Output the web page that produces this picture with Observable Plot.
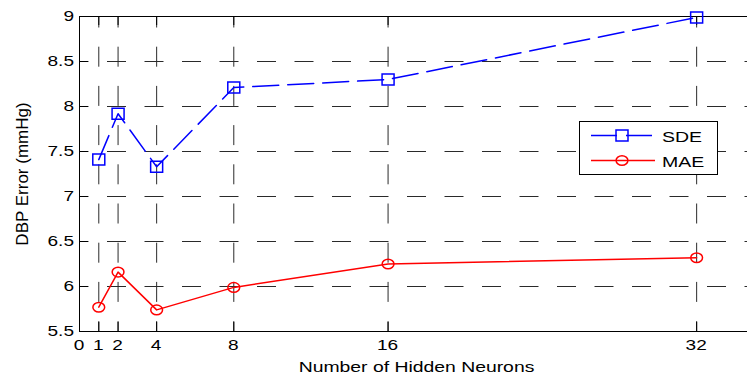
<!DOCTYPE html>
<html>
<head>
<meta charset="utf-8">
<script src="https://cdn.jsdelivr.net/npm/d3@7"></script>
<script src="https://cdn.jsdelivr.net/npm/@observablehq/plot@0.6"></script>
<style>
  html, body { margin: 0; padding: 0; background: #fff; overflow: hidden; }
</style>
</head>
<body>
<div id="chart"></div>
<script>
// Error of the DBP estimate versus the size of the hidden layer
const hiddenNeurons = [1, 2, 4, 8, 16, 32];
const sdeError = [7.41, 7.92, 7.33, 8.21, 8.30, 8.99];
const maeError = [5.77, 6.16, 5.74, 5.99, 6.25, 6.32];
const xTickValues = [0, 1, 2, 4, 8, 16, 32];
const yTickValues = [5.5, 6, 6.5, 7, 7.5, 8, 8.5, 9];
const seriesNames = ["SDE", "MAE"];
const seriesColors = ["#0000ff", "#ff0000"];
const xTitle = "Number of Hidden Neurons";
const yTitle = "DBP Error (mmHg)";
const xDomain = [0, 35];
const yDomain = [5.5, 9];

// Open markers, slightly wider than tall
const squareSymbol = {draw(ctx) { ctx.rect(-6, -5.5, 12, 11); }};
const ellipseSymbol = {draw(ctx) {
  const rx = 5.9, ry = 4.8, k = 0.5523;
  ctx.moveTo(rx, 0);
  ctx.bezierCurveTo(rx, k * ry, k * rx, ry, 0, ry);
  ctx.bezierCurveTo(-k * rx, ry, -rx, k * ry, -rx, 0);
  ctx.bezierCurveTo(-rx, -k * ry, -k * rx, -ry, 0, -ry);
  ctx.bezierCurveTo(k * rx, -ry, rx, -k * ry, rx, 0);
  ctx.closePath();
}};
const seriesSymbols = [squareSymbol, ellipseSymbol];
const seriesDash = ["26,9", null];

const rows = seriesNames.flatMap((name, s) =>
  hiddenNeurons.map((n, i) => ({series: name, neurons: n, error: [sdeError, maeError][s][i]}))
);

const gridColor = "#2a2a2a";
const fontFamily = "'Liberation Sans', Arial, sans-serif";

const chart = Plot.plot({
  width: 747,
  height: 375,
  marginLeft: 79,
  marginRight: -7,
  marginTop: 16,
  marginBottom: 44,
  x: {domain: xDomain, axis: null},
  y: {domain: yDomain, axis: null},
  style: {fontFamily, fontSize: "14px", background: "#fff", color: "#000", overflow: "hidden"},
  marks: [
    // dashed grid
    Plot.ruleX(xTickValues.filter(v => v > xDomain[0]), {
      x: d => d, y1: () => yDomain[1], y2: () => yDomain[0],
      stroke: gridColor, strokeDasharray: "20,19.2", strokeDashoffset: 8.5
    }),
    Plot.ruleY(yTickValues.filter(v => v > yDomain[0] && v < yDomain[1]), {
      y: d => d, x1: () => xDomain[0], x2: () => xDomain[1],
      stroke: gridColor, strokeDasharray: "19,18.5", strokeDashoffset: 9.5
    }),
    // inward tick marks
    Plot.ruleX(xTickValues, {x: d => d, y1: () => yDomain[0], y2: () => yDomain[0], insetTop: -9, stroke: "#000"}),
    Plot.ruleX(xTickValues, {x: d => d, y1: () => yDomain[1], y2: () => yDomain[1], insetBottom: -9, stroke: "#000"}),
    Plot.ruleY(yTickValues, {y: d => d, x1: () => xDomain[0], x2: () => xDomain[0], insetRight: -9, stroke: "#000"}),
    // axes box
    Plot.ruleX([xDomain[0]], {stroke: "#000"}),
    Plot.ruleY(yDomain, {stroke: "#000"}),
    // vertical axis title
    Plot.text([yTitle], {
      text: d => d, frameAnchor: "left", rotate: -90, dx: -57, textAnchor: "middle", lineAnchor: "middle",
      fontSize: 17
    }),
    // series
    ...seriesNames.map((name, s) => Plot.line(rows.filter(r => r.series === name), {
      x: "neurons", y: "error", stroke: seriesColors[s], strokeWidth: 1.5,
      strokeDasharray: seriesDash[s]
    })),
    ...seriesNames.map((name, s) => Plot.dot(rows.filter(r => r.series === name), {
      x: "neurons", y: "error", symbol: seriesSymbols[s], stroke: seriesColors[s],
      fill: "none", strokeWidth: 1.5
    }))
  ]
});

const sx = chart.scale("x"), sy = chart.scale("y");
const svg = d3.select(chart);

// horizontally widened label placed at (x, baseline y)
function wideText(parent, str, x, y, {size, stretch, anchor}) {
  return parent.append("text")
    .attr("transform", `translate(${x},${y}) scale(${stretch},1)`)
    .attr("text-anchor", anchor)
    .attr("font-family", fontFamily)
    .attr("font-size", size)
    .attr("fill", "#000")
    .text(str);
}

// tick labels and horizontal axis title
const labels = svg.append("g").attr("aria-label", "tick labels");
const xBase = sy.apply(yDomain[0]);
xTickValues.forEach(v => wideText(labels, String(v), sx.apply(v), xBase + 19, {size: 14, stretch: 1.36, anchor: "middle"}));
const yEdge = sx.apply(xDomain[0]);
yTickValues.forEach(v => wideText(labels, String(v), yEdge - 5, sy.apply(v) + 5, {size: 14, stretch: 1.36, anchor: "end"}));
wideText(labels, xTitle, (sx.apply(xDomain[0]) + sx.apply(xDomain[1])) / 2, xBase + 41, {size: 15.5, stretch: 1.25, anchor: "middle"});

// legend box inside the plot area
const legend = svg.append("g").attr("aria-label", "legend");
legend.append("rect")
  .attr("x", 579.5).attr("y", 121.5).attr("width", 138).attr("height", 53)
  .attr("fill", "#fff").attr("stroke", "#000");
seriesNames.forEach((name, s) => {
  const cy = 135.5 + s * 25;
  legend.append("line")
    .attr("x1", 591).attr("x2", 655).attr("y1", cy).attr("y2", cy)
    .attr("stroke", seriesColors[s]).attr("stroke-width", 1.5)
    .attr("stroke-dasharray", seriesDash[s]);
  const p = d3.path();
  seriesSymbols[s].draw(p);
  legend.append("path")
    .attr("d", p.toString()).attr("transform", `translate(622,${cy})`)
    .attr("fill", "none").attr("stroke", seriesColors[s]).attr("stroke-width", 1.5);
  wideText(legend, name, 662, cy + 6, {size: 15, stretch: 1.3, anchor: "start"});
});

document.getElementById("chart").appendChild(chart);
</script>
</body>
</html>
